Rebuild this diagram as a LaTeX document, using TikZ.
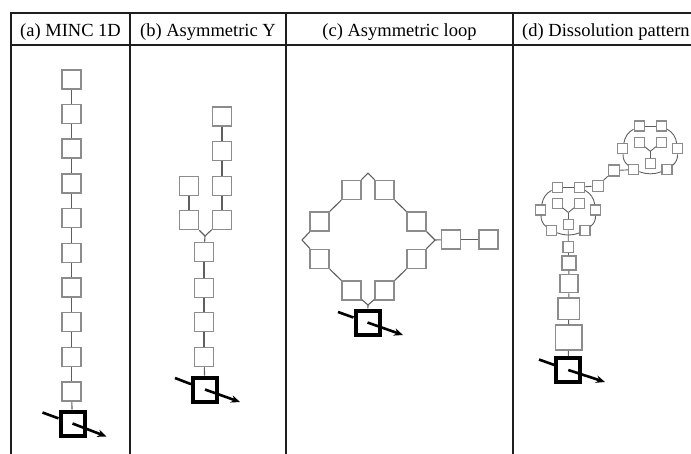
\documentclass[tikz,border=0pt]{standalone}
\usepackage{fontspec}
\setmainfont{Liberation Serif}
\usetikzlibrary{arrows.meta}
\definecolor{boxgray}{RGB}{140,140,140}
\definecolor{conngray}{RGB}{95,95,95}
\definecolor{framecol}{RGB}{30,30,30}
\begin{document}
\begin{tikzpicture}[x=1pt,y=-1pt,
  frame/.style={draw=framecol,line width=2.3pt},
  hdr/.style={anchor=base,inner sep=0pt,font=\fontsize{18.5}{20}\selectfont},
  gbox/.style={draw=boxgray,line width=1.5pt,fill=white,minimum size=19pt,inner sep=0pt},
  sbox/.style={draw=boxgray,line width=1.2pt,fill=white,minimum size=10pt,inner sep=0pt},
  bbox/.style={draw=black,line width=4pt,fill=white,minimum size=24pt,inner sep=0pt},
  conn/.style={draw=conngray,line width=1.1pt},
  sconn/.style={draw=conngray,line width=0.9pt},
  inline/.style={draw=black,line width=2.6pt},
  outarrow/.style={draw=black,line width=2.6pt,-{Stealth[length=9pt,width=7.5pt]}}]
\useasboundingbox (0,0) rectangle (691,453);
\clip (0,0) rectangle (691,453);
% frame
\draw[frame] (11,455) -- (11,13) -- (700,13);
\draw[frame] (11,45) -- (700,45);
\draw[frame] (130,13) -- (130,455);
\draw[frame] (286,13) -- (286,455);
\draw[frame] (513,13) -- (513,455);
% headers
\node[hdr] (ha) at (70.5,36) {(a) MINC 1D};
\node[hdr] (hb) at (208,36) {(b) Asymmetric Y};
\node[hdr] (hc) at (399.5,36) {(c) Asymmetric loop};
\node[hdr,anchor=base west] (hd) at (522,36) {(d) Dissolution pattern};
% ---------- panel a
\foreach \i in {0,...,9} \node[gbox] (a\i) at (71.5,{79.3+34.7*\i}) {};
\node[bbox] (a10) at (72.5,423.5) {};
\foreach \i [evaluate=\i as \j using int(\i+1)] in {0,...,9} \draw[conn] (a\i) -- (a\j);
\coordinate (as) at (42.5,412.5);
\coordinate (ae) at (106.5,436.5);
\draw[inline] (as) -- (a10);
\draw[outarrow] (a10.center) -- (ae);
% ---------- panel b
\node[gbox] (b1) at (222,116.5) {};
\node[gbox] (b2) at (222,151) {};
\node[gbox] (b3) at (222,186) {};
\node[gbox] (b4) at (222,220) {};
\node[gbox] (b5) at (189,186) {};
\node[gbox] (b6) at (189,220) {};
\coordinate (bj) at (205,236);
\node[gbox] (b7) at (204,252) {};
\node[gbox] (b8) at (204,288) {};
\node[gbox] (b9) at (204,322) {};
\node[gbox] (b10) at (204,357) {};
\node[bbox] (bb) at (205,389.5) {};
\draw[conn] (b1) -- (b2);
\draw[conn] (b2) -- (b3);
\draw[conn] (b3) -- (b4);
\draw[conn] (b5) -- (b6);
\draw[conn] (b4) -- (bj);
\draw[conn] (b6) -- (bj);
\draw[conn] (bj) -- (b7);
\draw[conn] (b7) -- (b8);
\draw[conn] (b8) -- (b9);
\draw[conn] (b9) -- (b10);
\draw[conn] (b10) -- (bb);
\coordinate (bs) at (175,378);
\coordinate (be) at (240,402);
\draw[inline] (bs) -- (bb);
\draw[outarrow] (bb.center) -- (be);
% ---------- panel c
\node[gbox] (c1) at (351.5,190) {};
\node[gbox] (c2) at (384.5,190) {};
\node[gbox] (c3) at (319.5,221.5) {};
\node[gbox] (c4) at (416.5,221.5) {};
\node[gbox] (c5) at (319.5,259) {};
\node[gbox] (c6) at (416.5,259) {};
\node[gbox] (c7) at (351.5,290.5) {};
\node[gbox] (c8) at (384.5,290.5) {};
\node[gbox] (c9) at (451,239.5) {};
\node[gbox] (c10) at (488.5,239.5) {};
\node[bbox] (cb) at (367.5,322.5) {};
\coordinate (ctop) at (368,173);
\coordinate (cleft) at (302,240);
\coordinate (cright) at (435,240);
\coordinate (cbot) at (368,305);
\draw[conn] (ctop) -- (c1);
\draw[conn] (c1) -- (c3);
\draw[conn] (c3) -- (cleft);
\draw[conn] (cleft) -- (c5);
\draw[conn] (c5) -- (c7);
\draw[conn] (c7) -- (cbot);
\draw[conn] (cbot) -- (c8);
\draw[conn] (c8) -- (c6);
\draw[conn] (c6) -- (cright);
\draw[conn] (cright) -- (c4);
\draw[conn] (c4) -- (c2);
\draw[conn] (c2) -- (ctop);
\draw[conn] (cright) -- (c9);
\draw[conn] (c9) -- (c10);
\draw[conn] (cbot) -- (cb);
\coordinate (cs) at (338,312);
\coordinate (ce) at (403,335);
\draw[inline] (cs) -- (cb);
\draw[outarrow] (cb.center) -- (ce);
% ---------- panel d clusters
\foreach \n/\cx/\cy in {L/568.3/210, U/650.3/148.8} {
  \node[sbox] (\n tl) at ({\cx-11.2},{\cy-22.8}) {};
  \node[sbox] (\n tr) at ({\cx+11.2},{\cy-22.8}) {};
  \node[sbox] (\n il) at ({\cx-11.2},{\cy-6.7}) {};
  \node[sbox] (\n ir) at ({\cx+11.2},{\cy-6.7}) {};
  \node[sbox] (\n l) at ({\cx-27.5},{\cy}) {};
  \node[sbox] (\n r) at ({\cx+27.5},{\cy}) {};
  \node[sbox] (\n bl) at ({\cx-16.7},{\cy+20.8}) {};
  \node[sbox] (\n br) at ({\cx+16.7},{\cy+20.8}) {};
  \node[sbox] (\n c) at ({\cx},{\cy+14.8}) {};
  \coordinate (\n f) at ({\cx},{\cy+2.5});
  \draw[sconn] (\n tl) -- (\n tr);
  \draw[sconn] (\n tl) to[bend right=25] (\n l);
  \draw[sconn] (\n l) to[bend right=25] (\n bl);
  \draw[sconn] (\n bl) to[bend right=20] (\n br);
  \draw[sconn] (\n br) to[bend right=25] (\n r);
  \draw[sconn] (\n r) to[bend right=25] (\n tr);
  \draw[sconn] (\n c) -- (\n f);
  \draw[sconn] (\n f) -- (\n il);
  \draw[sconn] (\n f) -- (\n ir);
}
\node[sbox,minimum size=11pt] (ch1) at (597.7,185.8) {};
\node[sbox,minimum size=11pt] (ch2) at (613.8,170.5) {};
\draw[sconn] (Ltr) -- (ch1);
\draw[sconn] (ch1) -- (ch2);
\draw[sconn] (ch2) -- (Ubl);
% vertical chain
\node[sbox,minimum size=10.5pt] (v1) at (568.2,247) {};
\node[gbox,minimum size=14pt] (v2) at (568.8,262.8) {};
\node[gbox,minimum size=18pt] (v3) at (569,283.7) {};
\node[gbox,minimum size=21.5pt] (v4) at (568.7,308.7) {};
\node[gbox,minimum width=26.5pt,minimum height=25pt] (v5) at (568.5,337.5) {};
\node[bbox] (db) at (568.3,370) {};
\draw[sconn] (Lc) -- (v1);
\draw[sconn] (v1) -- (v2);
\draw[sconn] (v2) -- (v3);
\draw[sconn] (v3) -- (v4);
\draw[sconn] (v4) -- (v5);
\draw[sconn] (v5) -- (db);
\coordinate (ds) at (539,359.5);
\coordinate (de) at (605,382);
\draw[inline] (ds) -- (db);
\draw[outarrow] (db.center) -- (de);
\end{tikzpicture}
\end{document}
